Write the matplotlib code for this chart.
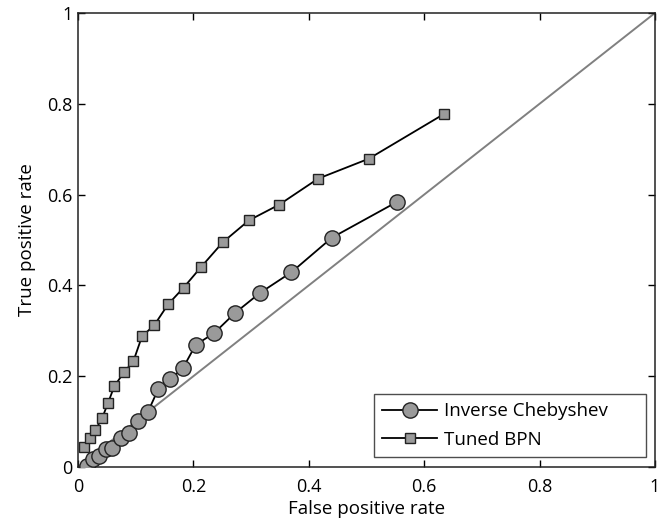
import matplotlib.pyplot as plt

plt.rcParams['font.family'] = ['Open Sans', 'DejaVu Sans']

# ROC points
cheb_fpr = [0.015, 0.026, 0.036, 0.048, 0.059, 0.075, 0.088, 0.104, 0.121, 0.139,
            0.160, 0.182, 0.204, 0.236, 0.272, 0.315, 0.370, 0.440, 0.553]
cheb_tpr = [0.003, 0.017, 0.024, 0.039, 0.042, 0.063, 0.075, 0.101, 0.121, 0.171,
            0.193, 0.218, 0.269, 0.295, 0.339, 0.383, 0.429, 0.505, 0.584]

bpn_fpr = [0.011, 0.020, 0.030, 0.042, 0.052, 0.063, 0.080, 0.096, 0.111, 0.132,
           0.156, 0.183, 0.213, 0.251, 0.296, 0.349, 0.416, 0.504, 0.635]
bpn_tpr = [0.044, 0.064, 0.081, 0.108, 0.141, 0.178, 0.209, 0.233, 0.288, 0.312,
           0.358, 0.395, 0.440, 0.495, 0.543, 0.578, 0.635, 0.679, 0.778]

ticks = [0, 0.2, 0.4, 0.6, 0.8, 1]
tick_labels = ['0', '0.2', '0.4', '0.6', '0.8', '1']

fig = plt.figure(figsize=(6.69, 5.2), dpi=100)
ax = fig.add_axes([0.1166, 0.102, 0.8624, 0.873])

# chance line
ax.plot([0, 1], [0, 1], color='#808080', lw=1.4, zorder=1)

ax.plot(cheb_fpr, cheb_tpr, '-o', color='black', lw=1.3, ms=11,
        mfc='#9a9a9a', mec='#222222', mew=1.0, label='Inverse Chebyshev', zorder=3)
ax.plot(bpn_fpr, bpn_tpr, '-s', color='black', lw=1.3, ms=7.5,
        mfc='#9a9a9a', mec='#222222', mew=1.0, label='Tuned BPN', zorder=3)

ax.set_xlim(0, 1)
ax.set_ylim(0, 1)
ax.set_xticks(ticks)
ax.set_xticklabels(tick_labels)
ax.set_yticks(ticks)
ax.set_yticklabels(tick_labels)
ax.tick_params(direction='in', top=True, right=True, length=5, width=1,
               labelsize=13)
ax.tick_params(axis='x', pad=8)
ax.tick_params(axis='y', pad=4)
for sp in ax.spines.values():
    sp.set_linewidth(1.1)
    sp.set_color('#222222')

ax.set_xlabel('False positive rate', fontsize=13.5, labelpad=3)
ax.set_ylabel('True positive rate', fontsize=13.5, labelpad=8)

# matlab-style legend box: wider than its contents
leg = ax.legend(loc='lower left', bbox_to_anchor=(0.513, 0.022, 0.471, 0.137),
                mode='expand', borderaxespad=0, fontsize=13.5, frameon=True,
                fancybox=False, edgecolor='#222222', handlelength=2.9,
                borderpad=0.45, labelspacing=0.55, handletextpad=0.4)
leg.get_frame().set_linewidth(1.0)

fig.savefig('out.png', dpi=100)
